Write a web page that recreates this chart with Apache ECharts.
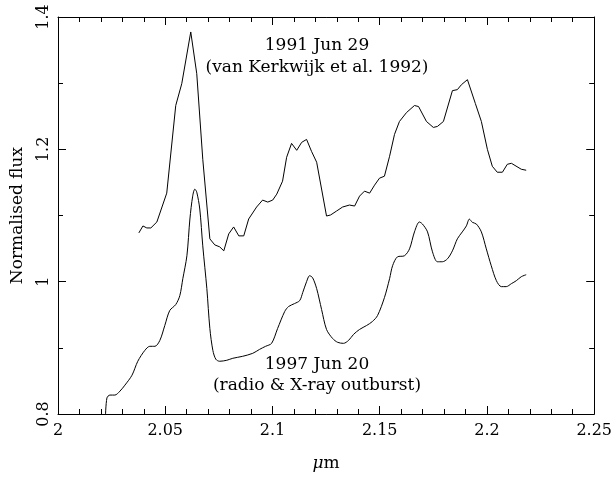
<!DOCTYPE html>
<html>
<head>
<meta charset="utf-8">
<script src="https://cdn.jsdelivr.net/npm/echarts@6/dist/echarts.min.js"></script>
<style>
  html, body { margin: 0; padding: 0; background: #fff; }
  #chart { width: 615px; height: 477px; }
</style>
</head>
<body>
<div id="chart"></div>
<script>
// 1991 Jun 29 spectrum (van Kerkwijk et al. 1992)
const wave1991 = [2.0377, 2.0396, 2.0414, 2.0433, 2.0461, 2.0507, 2.0549, 2.0577, 2.0619, 2.0647,
  2.0675, 2.0708, 2.0731, 2.0754, 2.0773, 2.0796, 2.0819, 2.0843, 2.0866, 2.0889,
  2.0926, 2.0954, 2.0978, 2.1001, 2.1020, 2.1047, 2.1066, 2.1089, 2.1113, 2.1136,
  2.1159, 2.1182, 2.1206, 2.1252, 2.1271, 2.1299, 2.1327, 2.1359, 2.1383, 2.1406,
  2.1429, 2.1453, 2.1476, 2.1499, 2.1522, 2.1546, 2.1569, 2.1592, 2.1625, 2.1662,
  2.1681, 2.1718, 2.1750, 2.1769, 2.1797, 2.1839, 2.1862, 2.1881, 2.1909, 2.1946,
  2.1974, 2.2002, 2.2025, 2.2048, 2.2072, 2.2095, 2.2114, 2.2160, 2.2183];
const flux1991 = [1.0737, 1.0842, 1.0812, 1.0812, 1.0902, 1.1338, 1.2662, 1.2992, 1.3774, 1.3143,
  1.1850, 1.0647, 1.0556, 1.0526, 1.0466, 1.0722, 1.0827, 1.0692, 1.0692, 1.0947,
  1.1128, 1.1233, 1.1203, 1.1233, 1.1323, 1.1519, 1.1880, 1.2090, 1.1985, 1.2105,
  1.2150, 1.1970, 1.1805, 1.0992, 1.1008, 1.1068, 1.1128, 1.1158, 1.1143, 1.1293,
  1.1368, 1.1338, 1.1459, 1.1564, 1.1594, 1.1895, 1.2226, 1.2421, 1.2556, 1.2662,
  1.2647, 1.2421, 1.2331, 1.2346, 1.2421, 1.2887, 1.2902, 1.2977, 1.3053, 1.2692,
  1.2421, 1.2000, 1.1744, 1.1654, 1.1654, 1.1774, 1.1789, 1.1699, 1.1684];

// 1997 Jun 20 spectrum (radio & X-ray outburst)
const wave1997 = [2.0221, 2.0228, 2.0242, 2.0265, 2.0289, 2.0312, 2.0345, 2.0372, 2.0405, 2.0428,
  2.0452, 2.0475, 2.0498, 2.0521, 2.0549, 2.0568, 2.0582, 2.0601, 2.0615, 2.0628,
  2.0638, 2.0647, 2.0661, 2.0675, 2.0694, 2.0708, 2.0722, 2.0736, 2.0754, 2.0787,
  2.0815, 2.0861, 2.0908, 2.0940, 2.0968, 2.0996, 2.1024, 2.1057, 2.1075, 2.1103,
  2.1127, 2.1141, 2.1159, 2.1173, 2.1187, 2.1206, 2.1229, 2.1252, 2.1280, 2.1304,
  2.1331, 2.1355, 2.1378, 2.1406, 2.1439, 2.1466, 2.1490, 2.1522, 2.1546, 2.1560,
  2.1583, 2.1615, 2.1639, 2.1662, 2.1685, 2.1699, 2.1723, 2.1746, 2.1769, 2.1792,
  2.1816, 2.1839, 2.1862, 2.1885, 2.1904, 2.1918, 2.1932, 2.1951, 2.1974, 2.1997,
  2.2020, 2.2044, 2.2067, 2.2090, 2.2114, 2.2137, 2.2160, 2.2183];
const flux1997 = [0.7940, 0.8241, 0.8286, 0.8286, 0.8346, 0.8436, 0.8586, 0.8797, 0.8962, 0.9023,
  0.9023, 0.9113, 0.9338, 0.9564, 0.9654, 0.9789, 1.0045, 1.0391, 1.0947, 1.1293,
  1.1398, 1.1353, 1.1098, 1.0541, 0.9895, 0.9293, 0.8962, 0.8827, 0.8797, 0.8812,
  0.8842, 0.8872, 0.8917, 0.8977, 0.9023, 0.9068, 0.9293, 0.9549, 0.9624, 0.9669,
  0.9714, 0.9835, 1.0000, 1.0090, 1.0060, 0.9895, 0.9579, 0.9278, 0.9143, 0.9083,
  0.9068, 0.9113, 0.9203, 0.9278, 0.9338, 0.9398, 0.9489, 0.9759, 1.0045, 1.0241,
  1.0376, 1.0391, 1.0496, 1.0752, 1.0902, 1.0872, 1.0752, 1.0451, 1.0301, 1.0301,
  1.0346, 1.0466, 1.0647, 1.0752, 1.0842, 1.0945, 1.0897, 1.0870, 1.0752, 1.0496,
  1.0241, 1.0015, 0.9925, 0.9925, 0.9970, 1.0015, 1.0075, 1.0105];

const labels1991 = ["1991 Jun 29", "(van Kerkwijk et al. 1992)"];
const labels1997 = ["1997 Jun 20", "(radio & X-ray outburst)"];

const FONT = "DejaVu Serif";
const chart = echarts.init(document.getElementById("chart"), null, { renderer: "canvas" });

const tickFmt = (v) => String(parseFloat(v.toFixed(2)));
const axisCommon = {
  axisLine: { show: true, onZero: false, lineStyle: { color: "#000", width: 1 } },
  axisTick: { show: true, inside: true, length: 8, lineStyle: { color: "#000", width: 1 } },
  minorTick: { show: true, length: 5, lineStyle: { color: "#000", width: 1 } },
  splitLine: { show: false },
};

const note = (text, x, y) => ({
  type: "text", x, y,
  style: { text, font: "17px '" + FONT + "'", fill: "#000", textAlign: "center", textVerticalAlign: "middle" },
});

chart.setOption({
  animation: false,
  textStyle: { fontFamily: FONT, color: "#000" },
  grid: { left: 58, right: 20, top: 17, bottom: 61 },
  xAxis: [
    {
      ...axisCommon,
      type: "value", min: 2, max: 2.25, interval: 0.05,
      minorTick: { ...axisCommon.minorTick, splitNumber: 5 },
      axisLabel: { color: "#000", fontFamily: FONT, fontSize: 16, margin: 9, formatter: tickFmt },
      name: "{i|μ}m",
      nameLocation: "middle",
      nameGap: 41,
      nameTextStyle: {
        color: "#000", fontFamily: FONT, fontSize: 17,
        rich: { i: { fontStyle: "italic", fontFamily: FONT, fontSize: 17, color: "#000" } },
      },
    },
    {
      ...axisCommon,
      type: "value", position: "top", min: 2, max: 2.25, interval: 0.05,
      minorTick: { ...axisCommon.minorTick, splitNumber: 5 },
      axisLabel: { show: false },
    },
  ],
  yAxis: [
    {
      ...axisCommon,
      type: "value", min: 0.8, max: 1.4, interval: 0.2,
      minorTick: { ...axisCommon.minorTick, splitNumber: 2 },
      axisLabel: {
        color: "#000", fontFamily: FONT, fontSize: 16, rotate: 90,
        align: "center", verticalAlign: "bottom", margin: 6, formatter: tickFmt,
      },
      name: "Normalised flux",
      nameLocation: "middle",
      nameGap: 32,
      nameTextStyle: { color: "#000", fontFamily: FONT, fontSize: 17 },
    },
    {
      ...axisCommon,
      type: "value", position: "right", min: 0.8, max: 1.4, interval: 0.2,
      minorTick: { ...axisCommon.minorTick, splitNumber: 2 },
      axisLabel: { show: false },
    },
  ],
  series: [
    {
      type: "line",
      data: wave1991.map((w, i) => [w, flux1991[i]]),
      showSymbol: false,
      lineStyle: { color: "#000", width: 1 },
      clip: true,
    },
    {
      type: "line",
      data: wave1997.map((w, i) => [w, flux1997[i]]),
      showSymbol: false,
      smooth: 0.3,
      lineStyle: { color: "#000", width: 1 },
      clip: true,
    },
  ],
  graphic: [
    note(labels1991[0], 317, 46),
    note(labels1991[1], 317, 68),
    note(labels1997[0], 317, 365),
    note(labels1997[1], 317, 386),
  ],
});
</script>
</body>
</html>
